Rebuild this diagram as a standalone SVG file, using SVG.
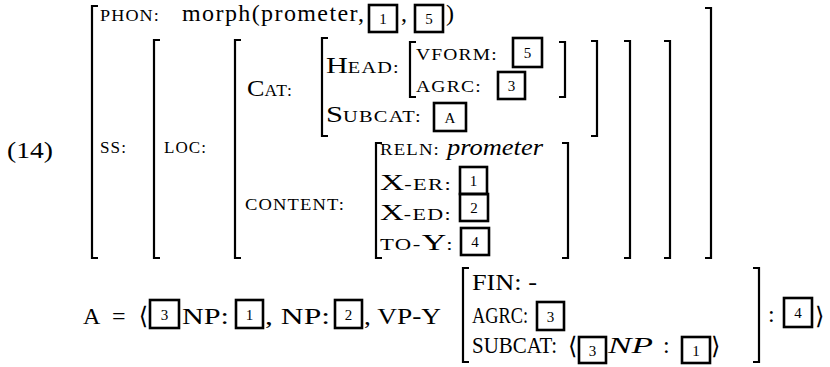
<svg xmlns="http://www.w3.org/2000/svg" width="830" height="367" viewBox="0 0 830 367">
<style>
text{font-family:"Liberation Serif","DejaVu Serif",serif;fill:#000}
.t{font-size:24px}
.sc{font-size:16px;letter-spacing:1px}
.d{font-size:15px;text-anchor:middle}
.it{font-style:italic}
.br{fill:none;stroke:#000;stroke-width:2.2}
.bx{fill:none;stroke:#000;stroke-width:2.6}
</style>
<rect width="830" height="367" fill="#fff"/>
<g id="brackets">
<path class="br" d="M98 6H92V258H98"/>
<path class="br" d="M705 8H711V258H705"/>
<path class="br" d="M160 40H154V258H160"/>
<path class="br" d="M664 41H670V258H664"/>
<path class="br" d="M241 40H235V258H241"/>
<path class="br" d="M624 41H630V258H624"/>
<path class="br" d="M328 38H322V136H328"/>
<path class="br" d="M591 41H597V136H591"/>
<path class="br" d="M416 42H410V97H416"/>
<path class="br" d="M559 42H565V97H559"/>
<path class="br" d="M382 143H376V258H382"/>
<path class="br" d="M562 143H568V258H562"/>
<path class="br" d="M469 268H463V362H469"/>
<path class="br" d="M753 268H759V362H753"/>
</g>
<text class="t" x="7" y="158" textLength="46" lengthAdjust="spacingAndGlyphs">(14)</text>
<g id="phon">
<text class="sc" x="100" y="21" textLength="60" lengthAdjust="spacingAndGlyphs">PHON:</text>
<text class="t" x="182" y="21" textLength="182" lengthAdjust="spacing">morph(prometer,</text>
<rect class="bx" x="369" y="5" width="28" height="27"/><text class="d" x="383" y="24">1</text>
<text class="t" x="401" y="21">,</text>
<rect class="bx" x="415" y="5" width="28" height="27"/><text class="d" x="429" y="24">5</text>
<text class="t" x="446" y="21">)</text>
</g>
<g id="ss">
<text class="sc" x="100" y="153" textLength="27" lengthAdjust="spacingAndGlyphs">SS:</text>
<text class="sc" x="164" y="153" textLength="43" lengthAdjust="spacingAndGlyphs">LOC:</text>
</g>
<g id="cat">
<text x="247" y="96" textLength="46" lengthAdjust="spacingAndGlyphs"><tspan class="t">C</tspan><tspan class="sc">AT:</tspan></text>
<text x="326" y="73" textLength="74" lengthAdjust="spacingAndGlyphs"><tspan class="t">H</tspan><tspan class="sc">EAD:</tspan></text>
<text class="sc" x="416" y="60" textLength="82" lengthAdjust="spacingAndGlyphs">VFORM:</text>
<rect class="bx" x="513" y="38" width="29" height="29"/><text class="d" x="527.5" y="58">5</text>
<text class="sc" x="416" y="92" textLength="66" lengthAdjust="spacingAndGlyphs">AGRC:</text>
<rect class="bx" x="498" y="72" width="27" height="27"/><text class="d" x="511.5" y="91">3</text>
<text x="326" y="122" textLength="96" lengthAdjust="spacingAndGlyphs"><tspan class="t">S</tspan><tspan class="sc">UBCAT:</tspan></text>
<rect class="bx" x="434" y="103" width="32" height="28"/><text class="d" x="450" y="123">A</text>
</g>
<g id="content">
<text class="sc" x="245" y="210" textLength="100" lengthAdjust="spacingAndGlyphs">CONTENT:</text>
<text class="sc" x="380" y="155" textLength="60" lengthAdjust="spacingAndGlyphs">RELN:</text>
<text class="t it" x="447" y="155" textLength="96" lengthAdjust="spacingAndGlyphs">prometer</text>
<text x="380" y="190" textLength="72" lengthAdjust="spacingAndGlyphs"><tspan class="t">X</tspan><tspan class="sc">-ER:</tspan></text>
<rect class="bx" x="460" y="167" width="27" height="27"/><text class="d" x="473.5" y="186">1</text>
<text x="380" y="220" textLength="72" lengthAdjust="spacingAndGlyphs"><tspan class="t">X</tspan><tspan class="sc">-ED:</tspan></text>
<rect class="bx" x="460" y="194" width="28" height="27"/><text class="d" x="474" y="213">2</text>
<text x="380" y="250" textLength="74" lengthAdjust="spacingAndGlyphs"><tspan class="sc">TO-</tspan><tspan class="t">Y</tspan><tspan class="sc">:</tspan></text>
<rect class="bx" x="461" y="228" width="28" height="27"/><text class="d" x="475" y="247">4</text>
</g>
<g id="subcat-list">
<text class="t" x="83" y="324" textLength="65" lengthAdjust="spacing">A = ⟨</text>
<rect class="bx" x="150" y="300" width="29" height="28"/><text class="d" x="164.5" y="320">3</text>
<text class="t" x="182" y="324" textLength="47" lengthAdjust="spacingAndGlyphs">NP:</text>
<rect class="bx" x="236" y="300" width="27" height="28"/><text class="d" x="249.5" y="320">1</text>
<text class="t" x="265" y="324" textLength="65" lengthAdjust="spacingAndGlyphs">, NP:</text>
<rect class="bx" x="335" y="300" width="27" height="28"/><text class="d" x="348.5" y="320">2</text>
<text class="t" x="364" y="324" textLength="77" lengthAdjust="spacingAndGlyphs">, VP-Y</text>
<text class="t" x="472" y="290" textLength="65" lengthAdjust="spacingAndGlyphs">FIN: -</text>
<text class="t" x="472" y="323" textLength="56" lengthAdjust="spacingAndGlyphs">AGRC:</text>
<rect class="bx" x="537" y="302" width="27" height="28"/><text class="d" x="550.5" y="322">3</text>
<text class="t" x="472" y="353" textLength="85" lengthAdjust="spacingAndGlyphs">SUBCAT:</text>
<text class="t" x="568" y="354">⟨</text>
<rect class="bx" x="579" y="337" width="27" height="26"/><text class="d" x="592.5" y="356">3</text>
<text class="t it" x="608" y="353" textLength="45" lengthAdjust="spacingAndGlyphs">NP</text>
<text class="t" x="663" y="353">:</text>
<rect class="bx" x="682" y="337" width="28" height="26"/><text class="d" x="696" y="356">1</text>
<text class="t" x="711" y="354">⟩</text>
<text class="t" x="768" y="322">:</text>
<rect class="bx" x="784" y="298" width="28" height="29"/><text class="d" x="798" y="318">4</text>
<text class="t" x="815" y="324">⟩</text>
</g>
</svg>
